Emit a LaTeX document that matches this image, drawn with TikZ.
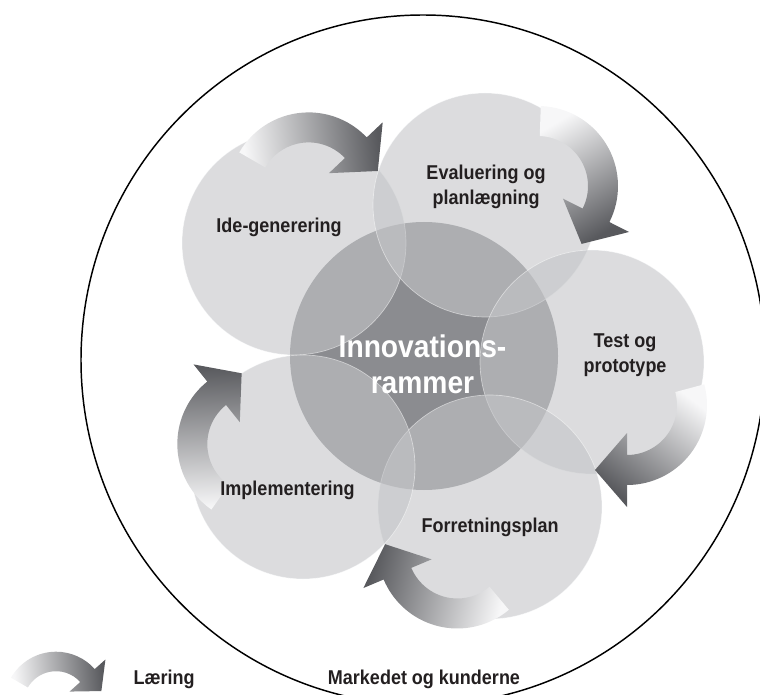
\documentclass[tikz,border=0pt]{standalone}
\usepackage{fontspec}
\setmainfont{Liberation Sans}
\newfontfamily\narrowsans[FakeStretch=0.9]{Liberation Sans}
\usetikzlibrary{calc}

\definecolor{discfill}{RGB}{196,197,200}
\definecolor{corefill}{RGB}{139,140,144}
\definecolor{arrowlight}{RGB}{247,247,248}
\definecolor{arrowdark}{RGB}{88,89,93}
\definecolor{inktext}{RGB}{35,31,32}

% curved learning arrow: pivot, scale, tail angle, head angle
\newcommand\cyclearrow[4]{%
  \pgfmathsetmacro\arrowshade{-(#3+#4)/2}%
  \begin{scope}[shift={#1}, scale=#2]
    \shade[top color=arrowlight, bottom color=arrowdark, shading angle=\arrowshade]
      (#3:80) arc[start angle=#3, end angle=#4, radius=80]
      -- (#4:102) -- ($(#4:65)+({#4+90}:32)$) -- (#4:28) -- (#4:50)
      arc[start angle=#4, end angle=#3, radius=50] -- cycle;
  \end{scope}}

\begin{document}
\begin{tikzpicture}[x=0.75pt, y=-0.75pt,
  disc/.style={circle, inner sep=0pt, minimum size=168pt, fill=discfill,
    fill opacity=0.6, draw=white, draw opacity=0.5, line width=0.5pt},
  core/.style={circle, inner sep=0pt, minimum size=201pt, fill=corefill},
  phase/.style={anchor=base, align=center, text=inktext,
    font=\narrowsans\fontsize{15}{18.75}\selectfont\bfseries},
  coretext/.style={anchor=base, align=center, text=white,
    font=\narrowsans\fontsize{23.5}{27}\selectfont\bfseries}]
\useasboundingbox (0,0) rectangle (760,695);

% the market around everything
\draw[line width=1.1pt] (423,360) ellipse[x radius=342, y radius=345];

% innovation frame and the five phases
\node[core] (core) at (424,356) {};
\node[disc] (ide)  at (294,243) {};
\node[disc] (eval) at (485,205) {};
\node[disc] (test) at (592,362) {};
\node[disc] (plan) at (490,507) {};
\node[disc] (impl) at (303,467) {};

% learning arrows between the phases
\cyclearrow{($(ide.center)+(14.6,-50.6)$)}{1}{-150}{-43.4}
\cyclearrow{($(eval.center)+(53,-19)$)}{1}{-88}{26.8}
\cyclearrow{($(test.center)+(35,43)$)}{1}{-15}{90}
\cyclearrow{($(plan.center)+(-32.6,41.5)$)}{1}{50}{157.2}
\cyclearrow{($(impl.center)+(-45.7,-23)$)}{1}{125}{231.3}

% labels (a two-line node sits on the baseline of its last line)
\node[phase] (tide)  at (279,233) {Ide-generering};
\node[phase] (teval) at (486,205) {Evaluering og\\planlægning};
\node[phase] (ttest) at (625,372) {Test og\\prototype};
\node[phase] (timpl) at (287.5,495) {Implementering};
\node[phase] (tplan) at (490,532) {Forretningsplan};
\node[coretext] (tcore) at (422.5,393) {Innovations-\\rammer};
\node[phase] (tmarket) at (424,684) {Markedet og kunderne};

% legend
\coordinate (legendpivot) at (56,703.7);
\cyclearrow{(legendpivot)}{0.65}{-150}{-41.8}
\node[phase, anchor=base west] (tlearn) at (129,684) {Læring};
\end{tikzpicture}
\end{document}
